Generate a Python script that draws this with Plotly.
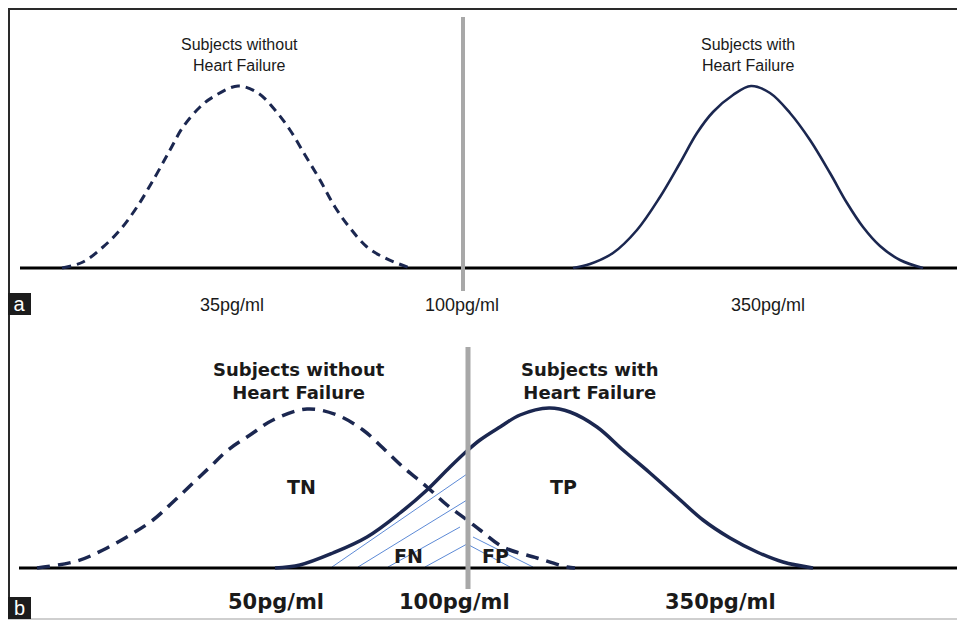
import plotly.graph_objects as go

# ---------------- data ----------------
# Panel a: horizontal position (page px units) and curve height above baseline
a_neg_x = [62, 83, 103, 120, 137, 155, 170, 183, 200, 213, 238, 258, 275, 290, 305, 320, 335, 350, 367, 385, 410]
a_neg_h = [0, 6, 21, 38, 61, 91, 118, 141, 161, 171, 182, 175, 158, 138, 113, 88, 61, 40, 21, 10, 0]
a_pos_x = [573, 590, 613, 637, 660, 680, 697, 713, 733, 751, 770, 790, 810, 830, 847, 863, 880, 900, 923]
a_pos_h = [0, 4, 15, 38, 71, 105, 135, 156, 173, 182, 175, 155, 128, 95, 65, 41, 22, 8, 0]
a_cut_x = 463
a_cut_h = [-23, 251]
a_base_x = [20, 960]

# Panel b
b_neg_x = [37, 77, 103, 130, 153, 173, 193, 210, 228, 250, 273, 307, 337, 363, 383, 403, 427, 447, 467, 480, 503, 537, 567, 575]
b_neg_h = [0, 7, 18, 33, 48, 66, 85, 101, 118, 133, 148, 159, 153, 138, 120, 101, 81, 63, 48, 38, 21, 10, 1, 0]
b_pos_x = [275, 300, 333, 367, 400, 427, 450, 468, 480, 500, 520, 549, 570, 597, 623, 650, 677, 703, 730, 757, 783, 813]
b_pos_h = [0, 3, 15, 31, 55, 78, 101, 118, 128, 141, 153, 160, 156, 141, 118, 95, 71, 48, 30, 16, 6, 0]
b_cut_x = 468
b_cut_h = [-21, 221]
b_base_x = [19, 960]

# hatch segments (start x, start h, end x, end h)
fn_hatch = [(332, 1, 467, 94), (358, 1, 467, 68), (388, 1, 460, 41), (425, 1, 467, 24)]
fp_hatch = [(467, 24, 510, 1), (473, 31, 533, 1)]

# text
a_titles = [("Subjects without<br>Heart Failure", 239), ("Subjects with<br>Heart Failure", 748)]
a_ticks = [("35pg/ml", 232), ("100pg/ml", 462), ("350pg/ml", 768)]
b_titles = [("Subjects without<br>Heart Failure", 299), ("Subjects with<br>Heart Failure", 590)]
b_ticks = [("50pg/ml", 276), ("100pg/ml", 454), ("350pg/ml", 720)]
b_regions = [("TN", 301, 81), ("TP", 563, 81), ("FN", 408, 12), ("FP", 495, 12)]

# ---------------- styling ----------------
NAVY = "#1b2750"
GRAY = "#a8a8a8"
HATCH = "#5d8ad6"
TXT = "#1a1a1a"
OFF = 8                      # page body margin
W, H = 965 - OFF, 620 - OFF  # figure size in page
A_BASE, B_BASE = 268, 568    # baseline page rows
SPLIT = 318                  # page row between panels

def px(x):
    return (x - OFF) / W

def py(y):
    return 1 - (y - OFF) / H

fig = go.Figure()

def line(x, y, xa, ya, color, width, dash=None, shape="spline"):
    fig.add_trace(go.Scatter(x=x, y=y, xaxis=xa, yaxis=ya, mode="lines",
                             line=dict(color=color, width=width, dash=dash, shape=shape, smoothing=1.0),
                             hoverinfo="skip", showlegend=False))

# Panel a
line(a_base_x, [0, 0], "x", "y", "#000000", 3, shape="linear")
line(a_neg_x, a_neg_h, "x", "y", NAVY, 3, dash="9px,6px")
line(a_pos_x, a_pos_h, "x", "y", NAVY, 2.6)
line([a_cut_x, a_cut_x], a_cut_h, "x", "y", GRAY, 4, shape="linear")

# Panel b
hx, hy = [], []
for (x0, y0, x1, y1) in fn_hatch + fp_hatch:
    hx += [x0, x1, None]
    hy += [y0, y1, None]
fig.add_trace(go.Scatter(x=hx, y=hy, xaxis="x2", yaxis="y2", mode="lines",
                         line=dict(color=HATCH, width=1), hoverinfo="skip", showlegend=False))
line(b_base_x, [0, 0], "x2", "y2", "#000000", 3, shape="linear")
line(b_neg_x, b_neg_h, "x2", "y2", NAVY, 3.5, dash="13px,8px")
line(b_pos_x, b_pos_h, "x2", "y2", NAVY, 3.5)
line([b_cut_x, b_cut_x], b_cut_h, "x2", "y2", GRAY, 5, shape="linear")

ann = []
fa = dict(family="Liberation Sans, Arial, sans-serif", size=16, color=TXT)
for t, cx in a_titles:
    ann.append(dict(x=cx, y=A_BASE - 54.5, xref="x", yref="y", text=t, showarrow=False, font=fa))
for t, cx in a_ticks:
    ann.append(dict(x=cx, y=A_BASE - 305, xref="x", yref="y", text=t, showarrow=False,
                    font=dict(family="Liberation Sans, Arial, sans-serif", size=18, color=TXT)))

fb = dict(family="DejaVu Sans, sans-serif", size=18, color=TXT, weight="bold")
for t, cx in b_titles:
    ann.append(dict(x=cx, y=B_BASE - 380.5, xref="x2", yref="y2", text=t, showarrow=False, font=fb))
for t, cx, cy in b_regions:
    ann.append(dict(x=cx, y=cy, xref="x2", yref="y2", text=t, showarrow=False,
                    font=dict(family="DejaVu Sans, sans-serif", size=19, color=TXT, weight="bold")))
for t, cx in b_ticks:
    ann.append(dict(x=cx, y=B_BASE - 602, xref="x2", yref="y2", text=t, showarrow=False,
                    font=dict(family="DejaVu Sans, sans-serif", size=21, color=TXT, weight="bold")))

# panel letters
for letter, top in [("a", 293), ("b", 597)]:
    ann.append(dict(x=px(8), y=py(top), xref="paper", yref="paper", xanchor="left", yanchor="top",
                    text=letter, showarrow=False, bgcolor="#1c1c1c", width=23, height=22,
                    borderpad=0, borderwidth=0,
                    font=dict(family="Liberation Sans, Arial, sans-serif", size=20, color="#ffffff")))

shapes = [
    dict(type="line", xref="paper", yref="paper", x0=px(9), x1=px(9), y0=1, y1=0,
         line=dict(color="#2a2a2a", width=2)),
    dict(type="line", xref="paper", yref="paper", x0=px(8), x1=1, y0=py(9), y1=py(9),
         line=dict(color="#2a2a2a", width=2)),
    dict(type="line", xref="paper", yref="paper", x0=px(8), x1=1, y0=py(619), y1=py(619),
         line=dict(color="#cfcfcf", width=2)),
]

split = (620 - SPLIT) / H
ax = dict(visible=False, showgrid=False, zeroline=False, fixedrange=True)
fig.update_layout(
    width=W, height=H, margin=dict(l=0, r=0, t=0, b=0),
    paper_bgcolor="#ffffff", plot_bgcolor="rgba(0,0,0,0)",
    xaxis=dict(ax, range=[OFF, 965], domain=[0, 1], anchor="y"),
    yaxis=dict(ax, range=[A_BASE - SPLIT, A_BASE - OFF], domain=[split, 1], anchor="x"),
    xaxis2=dict(ax, range=[OFF, 965], domain=[0, 1], anchor="y2"),
    yaxis2=dict(ax, range=[B_BASE - 620, B_BASE - SPLIT], domain=[0, split], anchor="x2"),
    annotations=ann, shapes=shapes, showlegend=False,
)

fig.write_html("out.html")
